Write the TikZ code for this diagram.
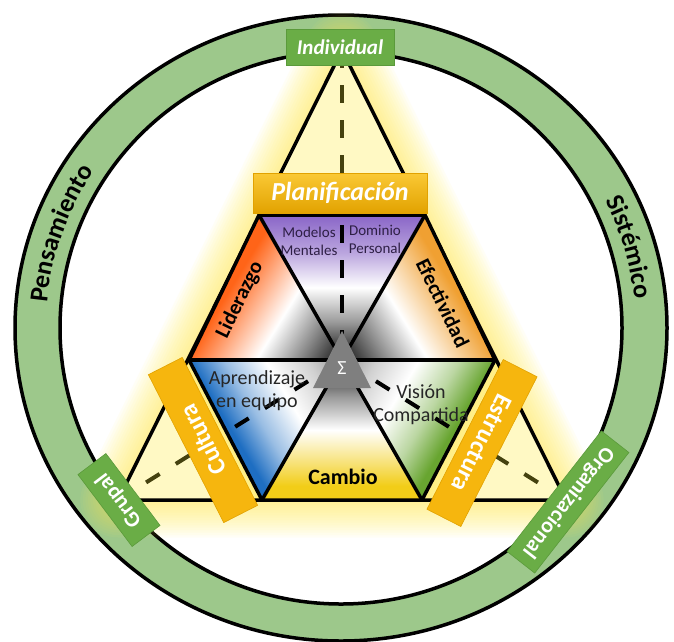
\documentclass[tikz,border=0pt]{standalone}
\usepackage{fontspec}
\setmainfont{Carlito}
\usetikzlibrary{decorations.text}

\definecolor{ringg}{HTML}{9DC88B}
\definecolor{boxg}{HTML}{6AAD46}
\definecolor{boxgd}{HTML}{5B9A3B}
\definecolor{gold}{HTML}{F6B60E}
\definecolor{golddark}{HTML}{E2A200}
\definecolor{goldtop}{HTML}{FAC935}
\definecolor{paley}{HTML}{FFF9C4}
\definecolor{glowy}{HTML}{FFEE55}
\definecolor{olivec}{HTML}{45420F}
\definecolor{cpur}{HTML}{8D6AC9}
\definecolor{cred}{HTML}{FF6418}
\definecolor{corg}{HTML}{F0A032}
\definecolor{cblu}{HTML}{1E6EC2}
\definecolor{cgrn}{HTML}{68A530}
\definecolor{cyel}{HTML}{F2CD18}
\definecolor{sigg}{HTML}{7F7F7F}
\definecolor{purtext}{HTML}{2E1F45}

\pgfdeclareverticalshading{shpur}{100bp}{color(0bp)=(cpur); color(26bp)=(cpur); color(38bp)=(cpur!60!white); color(50bp)=(white); color(62bp)=(black!40); color(74bp)=(black!92); color(100bp)=(black!92)}
\pgfdeclareverticalshading{shyel}{100bp}{color(0bp)=(cyel); color(30bp)=(cyel); color(40bp)=(cyel!50!white); color(50bp)=(white); color(62bp)=(black!40); color(74bp)=(black!92); color(100bp)=(black!92)}
\pgfdeclareverticalshading{shred}{100bp}{color(0bp)=(cred); color(40bp)=(cred); color(50bp)=(cred!50!white); color(60bp)=(white); color(72bp)=(black!45); color(84bp)=(black!92); color(100bp)=(black!92)}
\pgfdeclareverticalshading{shorg}{100bp}{color(0bp)=(corg); color(40bp)=(corg); color(50bp)=(corg!50!white); color(60bp)=(white); color(72bp)=(black!45); color(84bp)=(black!92); color(100bp)=(black!92)}
\pgfdeclareverticalshading{shblu}{100bp}{color(0bp)=(cblu); color(40bp)=(cblu); color(50bp)=(cblu!45!white); color(62bp)=(white); color(74bp)=(black!18); color(84bp)=(black!40); color(100bp)=(black!40)}
\pgfdeclareverticalshading{shgrn}{100bp}{color(0bp)=(cgrn); color(40bp)=(cgrn); color(50bp)=(cgrn!45!white); color(62bp)=(white); color(74bp)=(black!18); color(84bp)=(black!40); color(100bp)=(black!40)}

\tikzset{
  gbox/.style={fill=boxg, draw=boxgd, line width=0.6pt, text=white,
    font=\bfseries\fontsize{22pt}{22pt}\selectfont, inner sep=0pt, minimum height=35pt},
  obox/.style={fill=gold, draw=golddark, line width=0.6pt, text=white,
    font=\bfseries\fontsize{25pt}{25pt}\selectfont, inner sep=0pt, minimum height=38pt},
  seclbl/.style={font=\bfseries\fontsize{21pt}{21pt}\selectfont, inner sep=0pt, text=black},
  smlbl/.style={font=\fontsize{15pt}{18pt}\selectfont, align=center, inner sep=0pt, text=purtext},
  midlbl/.style={font=\fontsize{20pt}{23pt}\selectfont, align=center, inner sep=0pt, text=black!85},
  bline/.style={line width=3.5pt, line join=round, line cap=round},
  dashline/.style={line width=4pt, dash pattern=on 18pt off 17pt},
  ddashline/.style={line width=4pt, dash pattern=on 16pt off 19pt, dash phase=30pt},
  ringtext/.style={decorate, decoration={text along path, text align=center,
    text={|\bfseries\fontsize{26pt}{26pt}\selectfont|#1}}}
}

\begin{document}
\begin{tikzpicture}[x=1pt,y=1pt]
\useasboundingbox (0,0) rectangle (674,-641);
\fill[white] (0,0) rectangle (674,-641);

% coordinates
\coordinate (O) at (341,-328);
\coordinate (A) at (342,-50);
\coordinate (BLV) at (118,-500);
\coordinate (BRV) at (566,-500);
\coordinate (C) at (342,-360);
\coordinate (TL) at (259,-215);
\coordinate (TR) at (425,-215);
\coordinate (L) at (189,-360);
\coordinate (R) at (495,-360);
\coordinate (BL) at (262,-500);
\coordinate (BR) at (422,-500);

% ring
\fill[ringg, even odd rule] (O) ellipse [x radius=326, y radius=313] (O) ellipse [x radius=281, y radius=276];
\draw[line width=3.5pt] (O) ellipse [x radius=326, y radius=313];
\draw[line width=3.5pt] (O) ellipse [x radius=281, y radius=276];

% glow around big triangle
\foreach \w in {5,10,...,75} {
  \draw[glowy, opacity=0.055, line width=\w pt, line join=round] (A)--(BLV)--(BRV)--cycle;
}
\fill[paley] (A)--(BLV)--(BRV)--cycle;
% glow around hexagon
\begin{scope}
\clip (A)--(BLV)--(BRV)--cycle;
\foreach \w in {6,12,...,66} {
  \draw[glowy, opacity=0.07, line width=\w pt, line join=round] (TL)--(TR)--(R)--(BR)--(BL)--(L)--cycle;
}
\end{scope}

% dashed lines (outside colour)
\draw[olivec, dashline] (A) -- (C);
\draw[olivec, ddashline] (C) -- (BLV);
\draw[olivec, ddashline] (C) -- (BRV);

% big triangle
\draw[bline] (A)--(BLV)--(BRV)--cycle;

% six shaded triangles
\shade[shading=shpur, shading angle=180] (TL)--(TR)--(C)--cycle;
\shade[shading=shred, shading angle=-121.6] (TL)--(L)--(C)--cycle;
\shade[shading=shorg, shading angle=121.6] (TR)--(R)--(C)--cycle;
\shade[shading=shblu, shading angle=-59] (L)--(BL)--(C)--cycle;
\shade[shading=shgrn, shading angle=59] (R)--(BR)--(C)--cycle;
\shade[shading=shyel, shading angle=0] (BL)--(BR)--(C)--cycle;

% hexagon lines
\draw[bline] (TL)--(TR)--(R)--(BR)--(BL)--(L)--cycle;
\draw[bline] (TL)--(BR);
\draw[bline] (TR)--(BL);
\draw[bline] (L)--(R);

% dashed lines inside hexagon (black)
\begin{scope}
\clip (TL)--(TR)--(R)--(BR)--(BL)--(L)--cycle;
\draw[black, dashline] (A) -- (C);
\draw[black, ddashline] (C) -- (BLV);
\draw[black, ddashline] (C) -- (BRV);
\end{scope}

% sigma triangle
\fill[sigg] (342,-331)--(371,-388)--(313,-388)--cycle;
\node[text=white, font=\fontsize{20pt}{20pt}\selectfont, inner sep=0pt] (sig) at (342,-368) {Σ};

% inner labels
\node[smlbl] (mm) at (309,-241) {Modelos\\Mentales};
\node[smlbl] (dp) at (375,-239) {Dominio\\Personal};
\node[seclbl, rotate=64] (lid) at (240,-300) {Liderazgo};
\node[seclbl, rotate=-64] (efe) at (443,-303) {Efectividad};
\node[midlbl] (apr) at (257,-391) {Aprendizaje\\en equipo};
\node[midlbl] (vis) at (421,-405) {Visión\\Compartida};
\node[seclbl, font=\bfseries\fontsize{22pt}{22pt}\selectfont] (cam) at (343,-477) {Cambio};

% orange boxes
\node[obox, top color=goldtop, bottom color=golddark, font=\bfseries\itshape\fontsize{26pt}{26pt}\selectfont,
  minimum width=174pt, minimum height=40pt] (plan) at (340,-193) {Planificación};
\node[obox, rotate=117, minimum width=166pt] (cult) at (203,-440) {Cultura};
\node[obox, rotate=-117, minimum width=168pt] (estr) at (482,-443) {Estructura};

% green boxes
\node[gbox, font=\bfseries\itshape\fontsize{21pt}{21pt}\selectfont, minimum width=108pt, minimum height=36pt] (ind) at (340,-47) {Individual};
\node[gbox, rotate=127, minimum width=90pt] (grup) at (119,-500) {Grupal};
\node[gbox, rotate=-128, minimum width=153pt] (org) at (568,-502) {Organizacional};

% ring texts
\path[ringtext=Pensamiento] (O) ++(200:295 and 286) arc[start angle=200, end angle=122, x radius=295, y radius=286];
\path[ringtext=Sist{é}mico] (O) ++(56:295 and 286) arc[start angle=56, end angle=-24, x radius=295, y radius=286];
\end{tikzpicture}
\end{document}
